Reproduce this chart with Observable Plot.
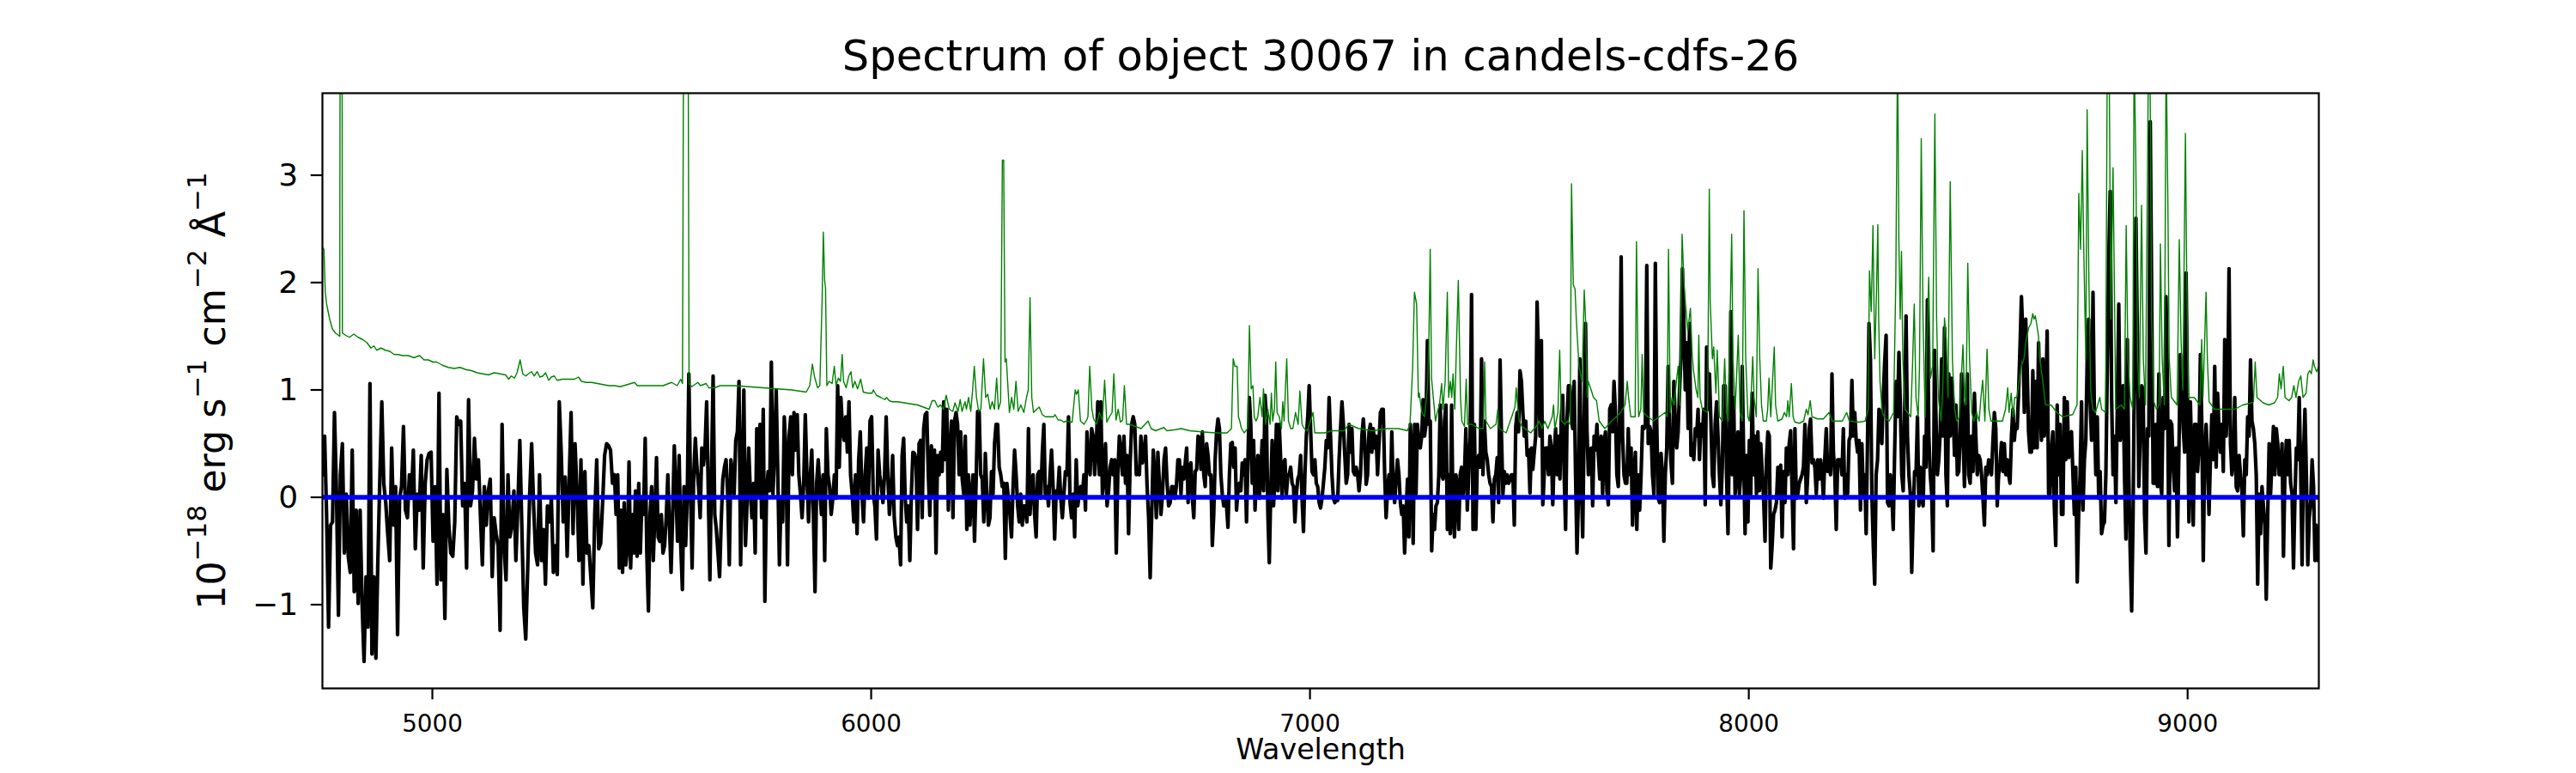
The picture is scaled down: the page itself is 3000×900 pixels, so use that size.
<!DOCTYPE html>
<html>
<head>
<meta charset="utf-8">
<script src="https://cdn.jsdelivr.net/npm/d3@7"></script>
<script src="https://cdn.jsdelivr.net/npm/@observablehq/plot@0.6"></script>
<style>
  html, body { margin: 0; padding: 0; background: #ffffff; }
  svg { display: block; }
</style>
</head>
<body>
<div id="chart"></div>
<script>
// ---------- text ----------
const titleText = "Spectrum of object 30067 in candels-cdfs-26";
const xLabelText = "Wavelength";
// y label parts: [text, isSuperscript]
const yLabelParts = [["10", 0], ["\u221218", 1], [" erg s", 0], ["\u22121", 1], [" cm", 0], ["\u22122", 1], [" \u00C5", 0], ["\u22121", 1]];

// ---------- ticks ----------
const xTicks = [5000, 6000, 7000, 8000, 9000];
const yTicks = [-1, 0, 1, 2, 3];

// ---------- flux (black), read in wavelength segments ----------
const segBounds = [4750, 5415, 6060, 6706, 7352, 7998, 8644, 9300];

const fluxSeg1 = [0.21,0.57,-0.16,-1.21,-0.26,-0.23,0.79,0.06,-1.10,0.21,0.50,-0.52,0.03,-0.55,-0.70,0.44,-0.88,-0.12,-0.99,-0.12,-0.99,-1.53,-0.74,-1.21,1.06,-1.46,-0.74,-1.50,-0.59,0.17,0.89,0.13,-0.05,-0.34,-0.59,0.46,-0.26,0.10,-1.28,-0.01,0.10,0.66,-0.12,-0.19,0.21,-0.01,0.44,-0.48,0.03,-0.12,0.39,-0.66,0.13,0.35,0.41,0.42,-0.41,0.10,-0.81,0.97,-0.77,-0.16,-1.13,0.26,-0.26,-0.52,-0.55,-0.23,0.75,0.68,0.71,-0.08,0.13,-0.66,0.91,-0.08,0.06,0.55,0.17,0.35,-0.16,-0.63,0.10,-0.26,0.06,0.17,-0.74,-0.19,-0.34,-0.45,-1.24,0.68,-0.45,-0.77,0.21,-0.37,-0.26,0.06,-0.59,-0.08,0.53,-0.26,-1.03,-1.32,-0.66,0.03,0.50,-0.08,-0.52,-0.63,0.21,-0.59,-0.30,-0.81,-0.08,-0.23,-0.01,-0.70,-0.45,-0.72,0.89,0.42,-0.23,0.19,-0.55,0.13,0.79,-0.34,0.50,0.06,-0.59,0.35,-0.81,0.24,-0.52,-0.45,-0.74,-1.03,-0.16,0.35,-0.48,-0.43,-0.05,0.39,0.50,0.48,0.44,0.13];

const fluxSeg2 = [0.21,-0.16,0.21,-0.66,-0.12,-0.70,-0.05,-0.63,-0.48,0.33,-0.66,-0.16,-0.52,0.06,-0.55,0.13,-0.52,-0.01,-0.16,0.55,-0.52,-1.06,-0.16,0.10,-0.59,-0.16,0.37,-0.37,-0.41,-0.16,-0.52,-0.45,-0.19,0.21,-0.26,-0.70,-0.16,0.48,0.06,-0.41,0.39,-0.45,-0.86,0.10,-0.45,-0.01,1.15,0.10,-0.66,0.21,0.55,0.28,0.10,-0.19,0.46,0.30,0.46,0.89,0.06,-0.77,0.24,1.13,-0.16,-0.30,-0.52,-0.74,-0.23,0.17,0.28,0.35,0.03,-0.63,0.35,0.21,0.03,0.53,0.61,1.08,-0.63,0.21,1.00,-0.45,-0.05,0.46,0.06,-0.19,0.13,-0.52,0.64,0.03,0.68,-0.19,0.82,-0.97,0.03,0.24,0.06,1.26,0.03,0.42,1.00,0.21,-0.63,-0.01,-0.23,0.75,0.42,-0.63,0.57,0.75,0.21,0.79,0.44,0.77,0.21,0.03,-0.19,0.13,0.77,0.21,-0.23,0.17,0.44,-0.16,-0.88,0.13,0.35,0.06,-0.16,0.21,-0.59,0.64,0.21,0.10,-0.16,-0.01,0.21,-0.01,1.04,0.28,0.93,0.64,0.53,0.75,0.42,0.89,0.21,0.03,-0.23,0.21,-0.34,0.35,0.61,0.03,-0.23,0.21,0.46,-0.01,0.71,0.75,0.03,-0.08,-0.39,0.44,0.21,0.10,-0.05,0.21,0.75,0.21,-0.16,0.03,0.39,-0.19,-0.37];

const fluxSeg3 = [-0.45,-0.37,-0.63,0.39,0.55,-0.01,-0.23,-0.08,-0.59,0.03,0.42,0.41,0.35,-0.30,0.50,0.53,-0.19,0.64,0.77,0.79,0.21,-0.17,0.48,0.03,0.44,-0.52,0.39,0.21,0.42,0.24,0.89,0.35,0.82,-0.12,0.42,0.71,-0.19,0.71,0.79,0.68,0.21,0.61,0.17,0.03,0.57,-0.30,0.21,-0.26,0.03,0.21,-0.41,0.13,0.80,0.80,0.21,0.17,-0.23,0.41,0.03,-0.26,-0.19,0.24,0.03,0.50,0.68,0.68,0.28,0.21,0.10,0.13,-0.57,0.13,-0.01,-0.16,-0.37,0.10,0.44,0.21,-0.08,-0.23,0.03,-0.26,-0.08,-0.08,-0.23,0.64,-0.16,0.10,0.21,-0.16,-0.37,0.21,0.24,-0.01,0.42,0.68,-0.01,0.10,-0.08,0.21,0.44,0.10,-0.39,0.06,0.03,0.28,-0.01,-0.19,0.03,0.24,0.21,0.75,-0.05,-0.19,0.03,-0.37,0.35,-0.08,0.03,0.10,-0.01,0.21,-0.12,0.61,0.32,0.21,0.64,0.57,0.21,0.46,0.89,0.21,0.89,0.03,0.17,0.50,-0.08,0.06,0.28,0.35,0.21,0.35,-0.52,0.21,0.57,0.42,0.21,0.57,0.13,0.39,-0.34,0.32,0.68,0.75,0.68,0.21,0.28,0.21,0.57,0.32,0.39,0.57,0.10,-0.19,-0.75,-0.16,0.44,0.21,-0.19,0.42,0.13,-0.16,0.03,0.35,0.46,0.13,-0.08,-0.05,0.10,0.10,-0.01,0.10,0.35,0.35];

const fluxSeg4 = [0.03,0.28,0.17,0.32,0.46,-0.05,0.28,0.32,-0.01,-0.19,0.24,0.26,0.57,0.55,0.26,0.61,0.21,0.10,0.50,0.39,0.21,0.21,-0.45,-0.16,0.35,0.61,0.73,0.64,0.21,0.03,-0.08,-0.01,-0.08,-0.28,0.21,0.50,0.51,0.28,0.46,-0.12,0.06,0.13,0.06,0.32,0.21,0.35,-0.23,0.35,0.93,0.68,0.13,0.53,-0.12,0.21,0.39,-0.01,0.21,0.53,0.06,0.95,0.75,-0.16,-0.61,0.03,0.53,-0.08,0.21,0.68,0.06,0.68,0.35,-0.01,0.32,0.35,0.03,0.21,0.21,0.28,0.13,0.10,-0.23,0.03,0.17,0.21,0.39,-0.01,-0.32,0.21,0.57,0.75,1.04,0.64,0.24,0.21,0.35,0.13,0.10,-0.05,-0.10,-0.01,0.13,0.28,0.53,0.46,0.93,0.57,0.21,-0.01,-0.05,-0.01,-0.03,0.35,0.64,0.89,0.68,0.39,0.13,0.21,0.68,0.42,0.64,0.24,0.21,0.28,0.21,0.06,0.21,0.57,0.73,0.53,0.12,0.21,0.61,0.68,0.42,0.64,0.46,0.57,0.21,0.50,0.79,0.82,0.82,0.21,-0.19,0.06,0.21,-0.01,0.61,0.06,-0.05,0.17,0.35,0.21,-0.05,-0.16,-0.08,-0.52,-0.16,0.17,-0.37,0.68,0.42,-0.43,0.68,0.03,0.68,0.50,0.46,0.57,0.91,0.57,0.68,1.46,0.68,0.71,-0.50,-0.16,-0.30,-0.08,-0.05,0.21,0.86,0.21,0.17,0.71,0.86,-0.30,0.21,-0.34,0.86,-0.16,-0.37,0.21,0.10,-0.30,0.21,0.28,0.03];

const fluxSeg5 = [0.21,0.64,-0.12,0.21,0.57,1.89,-0.30,0.68,-0.30,0.32,0.39,0.28,1.29,0.21,0.71,0.42,0.35,0.21,0.13,0.10,-0.23,0.17,0.21,0.37,-0.05,1.28,0.57,0.03,0.24,0.13,0.21,0.13,0.17,0.21,0.21,-0.26,0.66,0.79,0.61,1.18,1.08,0.79,0.57,0.71,0.39,0.44,0.04,0.46,0.26,0.42,0.57,1.82,1.29,0.57,1.46,-0.07,0.21,0.46,0.46,0.21,0.57,0.46,-0.07,0.39,0.64,0.21,0.57,0.17,0.75,0.95,0.21,-0.30,0.71,1.04,1.04,0.75,0.64,1.08,0.21,-0.52,-0.01,1.29,0.21,-0.37,0.64,1.62,0.64,0.21,0.24,0.46,-0.08,0.57,0.44,0.68,0.39,0.17,0.57,0.03,0.50,0.61,0.06,-0.07,0.82,0.86,0.61,1.08,0.79,0.21,0.10,0.82,2.24,0.57,0.21,0.13,0.13,0.64,0.21,0.46,-0.26,0.21,0.42,-0.30,0.21,-0.12,0.21,0.66,0.64,0.66,2.16,0.50,0.66,0.61,0.21,0.03,2.18,0.68,-0.01,-0.05,0.41,0.21,-0.41,0.21,0.46,1.22,0.64,0.32,0.13,1.08,0.71,0.46,0.61,1.00,1.29,2.13,1.66,1.00,1.44,0.64,1.62,0.39,0.50,0.35,0.64,0.57,0.82,0.35,0.68,0.57,0.82,-0.07,1.40,0.82,1.15,0.71,0.21,0.10,0.68,0.89,0.57,0.21,-0.07,0.28,1.04,1.04,0.21,-0.34,0.57,1.73,0.21,0.93,0.03,0.21,0.61,0.03,0.21,1.22,0.39,-0.34,0.39];

const fluxSeg6 = [-0.23,0.53,0.03,0.97,0.21,0.57,0.03,0.61,0.06,0.50,0.24,-0.01,-0.41,0.35,0.61,0.57,-0.66,-0.45,-0.16,-0.12,-0.05,0.28,-0.01,0.30,-0.37,0.24,-0.05,0.46,0.21,0.50,0.62,0.06,-0.48,0.64,-0.01,0.03,0.13,0.17,0.21,0.28,0.68,-0.05,0.21,0.64,0.73,0.32,0.35,0.28,0.03,0.35,0.17,0.35,0.24,-0.01,0.37,0.64,0.24,0.35,0.21,1.15,0.42,0.21,-0.30,0.35,0.35,0.35,0.21,0.64,-0.01,0.21,0.03,0.53,0.57,1.09,0.57,0.79,0.53,0.42,0.53,-0.12,0.50,0.03,0.21,-0.34,0.57,1.62,1.29,0.03,-0.45,-0.81,0.21,0.35,0.82,0.75,0.50,0.93,1.26,1.51,-0.05,-0.08,0.21,0.03,-0.30,0.42,1.08,0.75,1.35,0.86,0.21,0.06,0.75,1.69,0.57,0.21,0.03,-0.70,-0.16,0.24,0.21,0.75,-0.08,0.28,-0.01,-0.08,0.57,0.28,1.84,0.57,0.21,0.03,-0.50,1.37,0.75,0.21,0.35,0.61,1.29,0.57,1.58,0.21,-0.08,1.15,0.57,1.11,0.86,0.39,0.86,0.21,0.24,0.57,1.15,0.61,0.10,0.79,1.15,0.21,0.13,0.57,0.24,0.97,0.57,0.21,0.39,0.35,0.21,-0.01,-0.26,0.28,0.21,0.35,0.28,0.21,0.53,0.79,0.64,-0.08,0.21,0.32,0.51,0.24,0.50,0.21,0.35,0.21,0.13,0.57,0.82,0.53,0.68,0.64,0.97,1.40,1.87,1.51,0.79,1.66,1.22,0.61,0.42];

const fluxSeg7 = [0.42,1.18,0.46,1.08,0.46,1.44,0.93,0.53,1.29,0.57,0.86,1.55,0.03,0.03,0.46,0.61,-0.08,-0.45,0.86,0.21,0.68,-0.16,-0.16,0.93,0.35,0.89,0.37,0.57,0.61,0.21,-0.16,0.28,-0.79,-0.16,0.21,0.89,-0.12,0.35,0.53,1.33,1.66,0.89,0.53,1.91,0.75,0.21,0.75,-0.01,0.24,-0.34,-0.26,-0.23,0.21,1.22,2.20,2.85,0.93,0.21,0.57,-0.05,0.86,1.80,0.53,0.82,1.04,0.21,-0.39,1.47,0.21,-0.52,-1.06,-0.16,1.29,2.60,1.47,0.10,0.57,1.04,1.00,-0.16,-0.52,0.64,0.57,3.50,1.84,0.13,0.13,0.68,0.10,1.15,0.13,0.03,0.93,0.64,1.87,1.04,-0.45,0.71,0.68,0.28,0.06,0.46,-0.37,0.42,1.33,1.04,0.64,0.42,2.09,0.93,-0.23,0.89,0.35,-0.26,0.68,0.68,0.24,0.46,1.33,0.68,-0.59,0.39,0.68,0.35,-0.16,0.35,0.77,0.35,1.22,0.28,0.97,0.64,0.42,0.68,0.24,1.47,0.57,0.89,2.13,0.50,0.21,0.35,0.93,0.10,0.06,0.39,0.21,0.06,-0.36,0.35,0.21,0.75,0.57,1.28,0.71,0.64,0.50,0.21,-0.81,0.03,-0.34,0.10,-0.08,-0.26,-0.95,-0.16,0.50,0.03,0.35,0.66,0.21,0.64,0.50,0.21,0.21,0.50,-0.55,0.21,0.53,0.21,0.53,0.13,0.03,-0.66,-0.01,0.46,0.35,0.93,0.28,-0.63,0.39,0.82,0.21,-0.63,-0.19,-0.05,0.35,0.10,-0.59,-0.26,-0.59];

const fluxSegments = [fluxSeg1, fluxSeg2, fluxSeg3, fluxSeg4, fluxSeg5, fluxSeg6, fluxSeg7];

// ---------- error / sky spectrum (green) ----------
const errWave = [4750,4753,4756,4759,4766,4772,4779,4789,4791,4793,4795,4802,4811,4821,4831,4841,4851,4860,4867,4873,4883,4893,4903,4913,4922,4932,4945,4958,4971,4981,4991,5001,5010,5023,5036,5050,5063,5076,5089,5102,5115,5128,5141,5154,5167,5174,5180,5187,5193,5200,5206,5213,5219,5226,5232,5239,5245,5252,5258,5265,5271,5278,5284,5297,5310,5324,5333,5340,5350,5363,5376,5389,5402,5415,
5428,5461,5467,5493,5526,5545,5558,5566,5570,5576,5580,5585,5591,5605,5611,5624,5630,5643,5656,5689,5721,5754,5787,5819,5852,5860,5866,5871,5878,5883,5888,5891,5894,5896,5899,5904,5911,5916,5920,5925,5930,5934,5937,5943,5949,5954,5958,5963,5969,5976,5982,5992,6002,6005,6012,6022,6031,6035,6041,6048,
6060,6106,6132,6139,6145,6152,6158,6165,6171,6178,6186,6191,6198,6203,6207,6214,6217,6222,6227,6231,6235,6240,6245,6250,6256,6261,6266,6271,6276,6281,6286,6290,6295,6299,6302,6305,6308,6315,6320,6325,6330,6335,6341,6348,6354,6358,6362,6366,6370,6377,6383,6390,6397,6406,6416,6419,6426,6432,6439,6445,6458,6465,6468,6472,6477,6485,6491,6494,6498,6503,6507,6514,6520,6527,6532,6537,6543,6549,6553,6558,6563,6568,6573,6577,6582,6589,6602,6615,6631,6638,6648,6667,6674,6693,6706,
6726,6752,6785,6811,6821,6825,6829,6834,6837,6840,6844,6850,6858,6862,6866,6870,6873,6877,6881,6886,6891,6894,6899,6904,6909,6912,6915,6919,6922,6925,6930,6935,6938,6941,6947,6951,6956,6961,6967,6973,6977,6982,6987,6994,7007,7011,7033,7052,7078,7088,7111,7144,7176,7202,7222,7228,7234,7238,7243,7247,7249,7255,7261,7268,7271,7274,7277,7281,7286,7290,7295,7300,7303,7308,7313,7316,7320,7323,7326,7330,7333,7338,7343,7346,7352,
7356,7359,7369,7385,7395,7398,7401,7411,7424,7428,7431,7447,7463,7467,7470,7473,7477,7483,7503,7519,7522,7529,7535,7542,7552,7555,7558,7565,7569,7573,7581,7587,7593,7596,7600,7604,7607,7613,7620,7625,7628,7632,7634,7640,7646,7653,7659,7672,7685,7698,7708,7718,7723,7726,7731,7741,7744,7749,7754,7757,7760,7770,7783,7796,7809,7814,7817,7821,7825,7830,7835,7839,7843,7848,7852,7855,7861,7867,7871,7874,7880,7884,7886,7889,7894,7906,7910,7912,7917,7920,7925,7928,7931,7933,7940,7945,7949,7953,7961,7964,7969,7976,7980,7985,7989,7993,7998,
8001,8005,8009,8012,8017,8021,8025,8029,8033,8040,8043,8046,8050,8058,8061,8066,8076,8081,8086,8089,8092,8097,8101,8105,8115,8125,8131,8135,8140,8144,8157,8170,8183,8190,8213,8223,8229,8252,8265,8272,8275,8279,8283,8287,8291,8294,8296,8299,8304,8311,8320,8330,8335,8339,8342,8345,8348,8351,8356,8369,8373,8377,8381,8386,8389,8393,8397,8402,8406,8410,8414,8419,8424,8428,8432,8438,8442,8446,8450,8454,8459,8464,8469,8474,8480,8488,8492,8495,8499,8503,8508,8513,8519,8525,8529,8533,8538,8543,8547,8552,8578,8585,8590,8593,8598,8602,8606,8611,8616,8621,8627,8632,8638,8643,8647,8650,8653,8660,8663,8670,8676,
8689,8702,8715,8738,8748,8752,8756,8760,8763,8768,8771,8775,8779,8784,8790,8800,8804,8813,8817,8821,8825,8830,8833,8836,8849,8856,8860,8864,8869,8875,8878,8882,8886,8890,8895,8899,8904,8911,8914,8918,8923,8929,8935,8938,8942,8947,8951,8955,8958,8963,8976,8981,8985,8989,8995,8998,9002,9015,9028,9032,9035,9042,9045,9049,9061,9074,9087,9107,9126,9146,9150,9154,9158,9172,9185,9198,9205,9209,9213,9218,9222,9231,9237,9242,9247,9253,9258,9263,9270,9274,9278,9282,9286,9289,9294,9299];

const errFlux = [2.33,2.31,1.91,1.80,1.66,1.57,1.53,1.50,9,9,1.53,1.51,1.49,1.52,1.49,1.47,1.44,1.39,1.41,1.37,1.39,1.37,1.36,1.33,1.33,1.32,1.32,1.30,1.32,1.28,1.28,1.26,1.26,1.23,1.21,1.20,1.21,1.19,1.18,1.16,1.15,1.14,1.16,1.15,1.14,1.10,1.13,1.11,1.16,1.28,1.15,1.13,1.15,1.17,1.13,1.17,1.12,1.13,1.16,1.09,1.12,1.13,1.09,1.10,1.10,1.10,1.12,1.08,1.07,1.07,1.06,1.05,1.04,1.04,
1.03,1.07,1.04,1.04,1.04,1.07,1.04,1.10,1.06,9,9,1.06,1.03,1.07,1.04,1.06,1.02,1.02,1.04,1.04,1.03,1.02,1.01,1.00,0.98,1.04,1.24,1.12,1.02,1.04,1.80,2.47,2.02,1.95,1.04,1.08,1.06,1.22,1.04,1.11,1.08,1.33,1.08,1.02,1.13,1.17,1.02,1.08,1.01,1.10,0.98,0.97,0.97,1.00,0.95,0.93,0.91,0.93,0.90,0.89,
0.89,0.86,0.82,0.90,0.90,0.84,0.86,0.82,0.95,0.82,0.80,0.88,0.80,0.91,0.80,0.89,0.82,0.93,0.80,0.99,1.22,0.93,0.80,0.82,1.29,0.93,0.96,0.82,0.89,0.82,1.11,0.82,0.89,3.14,3.14,1.26,1.29,0.79,0.93,0.82,1.08,0.80,0.86,0.79,0.93,1.00,1.86,0.93,0.79,0.82,0.84,0.77,0.75,0.75,0.75,0.77,0.72,0.72,0.70,0.71,0.70,1.00,0.96,1.00,0.71,0.68,0.72,0.75,1.22,0.82,0.73,0.68,0.79,0.72,1.09,0.70,0.75,0.79,1.15,0.72,0.82,0.70,0.72,1.04,0.68,0.68,0.66,0.64,0.71,0.64,0.62,0.65,0.62,0.63,0.64,
0.62,0.61,0.60,0.60,0.64,1.29,1.22,1.22,0.75,0.71,0.64,0.60,0.64,1.60,1.01,1.04,0.75,0.71,0.75,0.93,0.75,1.01,0.68,0.82,0.68,0.97,0.71,0.82,1.26,0.79,0.75,0.64,0.89,0.71,1.29,0.71,0.64,0.64,0.79,0.68,0.99,0.68,0.64,0.62,0.79,0.60,0.60,0.62,0.62,0.68,0.64,0.62,0.64,0.64,0.62,0.68,1.22,1.91,1.80,0.93,0.97,0.79,0.75,1.04,1.47,2.31,1.11,0.93,0.71,0.79,0.86,1.06,0.82,1.08,1.91,0.93,1.08,0.93,1.15,0.82,1.29,2.02,0.93,0.71,0.66,
1.10,0.68,0.68,0.64,0.64,1.26,0.71,0.64,0.68,0.82,0.64,0.60,0.79,0.84,1.02,0.86,0.71,0.66,0.60,0.68,0.71,0.64,0.71,0.64,0.75,0.86,0.64,0.79,1.37,0.71,0.68,0.71,0.68,2.92,1.98,1.94,1.65,1.22,1.08,1.93,1.65,0.93,1.08,1.01,0.93,0.90,0.71,0.64,0.70,0.75,0.79,0.86,1.08,0.93,0.75,0.75,2.38,0.75,0.82,1.33,0.79,0.75,0.71,0.75,0.79,0.75,2.31,0.79,0.93,0.86,1.08,1.22,0.86,2.45,2.02,1.84,1.55,1.76,1.33,1.18,1.00,0.93,1.51,0.93,0.82,0.79,2.87,1.84,1.29,1.40,0.97,1.37,1.04,0.75,0.71,1.29,0.79,0.71,2.45,1.29,0.82,1.51,0.79,0.71,2.67,1.29,0.75,
0.71,0.93,1.31,0.93,0.75,2.13,1.29,0.86,0.71,0.71,0.82,1.11,0.75,1.40,0.86,0.71,0.73,0.79,0.75,0.90,0.75,1.06,0.75,0.70,0.69,0.71,0.82,0.77,0.90,0.75,0.73,0.73,0.79,0.71,0.71,0.79,0.71,0.70,0.71,0.82,2.11,1.73,2.53,1.29,1.91,2.54,1.66,1.08,0.79,0.73,0.71,0.79,2.02,4.2,2.38,1.66,2.29,1.29,0.82,0.75,1.22,1.80,0.93,0.75,1.22,3.34,1.66,0.75,1.47,2.05,1.11,1.22,3.57,1.66,0.93,0.71,1.00,1.67,1.47,0.93,2.94,1.29,0.82,0.71,0.75,1.42,0.93,0.86,2.18,1.29,0.79,0.71,0.79,0.71,0.93,1.09,0.71,1.38,0.82,0.71,0.71,0.82,1.02,0.79,0.97,0.75,0.93,0.93,1.08,1.22,1.29,1.47,1.58,1.62,1.71,1.66,1.69,1.51,1.29,1.08,0.86,
0.86,0.79,0.75,0.77,0.86,2.83,2.31,3.23,2.38,1.29,3.61,2.02,1.00,0.82,0.79,0.93,0.82,0.79,4.2,4.2,1.66,3.07,2.02,0.82,0.86,0.82,2.53,1.29,0.93,0.82,4.2,3.11,1.29,0.93,2.72,1.29,0.86,4.2,4.2,1.66,0.89,0.82,0.86,2.36,1.29,0.86,4.2,2.74,1.29,0.93,0.86,2.40,1.47,1.00,3.39,2.02,0.93,0.93,0.86,1.47,0.93,1.91,1.29,0.89,0.82,0.82,0.82,0.82,0.86,0.88,0.89,1.26,0.93,0.88,0.86,0.88,0.93,1.15,1.01,1.22,0.93,0.90,0.93,1.04,0.93,1.08,1.13,0.93,0.97,1.15,1.18,1.15,1.28,1.22,1.17,1.22];

// ---------- build tables ----------
const fluxData = [];
fluxSegments.forEach((seg, k) => {
  const a = segBounds[k], b = segBounds[k + 1];
  const step = (b - a) / seg.length;
  seg.forEach((v, i) => fluxData.push({wave: a + i * step, flux: v}));
});
const errData = errWave.map((w, i) => ({wave: w, flux: errFlux[i]}));
const yLabelPlain = yLabelParts.map(p => p[0]).join("");

const fmt = d3.format("d");

const chart = Plot.plot({
  width: 3000,
  height: 900,
  marginLeft: 375,
  marginRight: 300,
  marginTop: 108,
  marginBottom: 99,
  style: {fontFamily: "'DejaVu Sans', sans-serif", background: "#ffffff", color: "#000000", overflow: "visible"},
  x: {domain: [4749.5, 9299], ticks: xTicks, tickFormat: fmt},
  y: {domain: [-1.78, 3.764], ticks: yTicks, tickFormat: fmt},
  marks: [
    Plot.line(fluxData, {x: "wave", y: "flux", stroke: "#000000", strokeWidth: 4.2, clip: true}),
    Plot.line(errData, {x: "wave", y: "flux", stroke: "#008000", strokeWidth: 1.4, clip: true}),
    Plot.ruleY([0], {stroke: "#0000ff", strokeWidth: 5.6}),
    Plot.frame({stroke: "#000000", strokeWidth: 2.2}),
    Plot.axisX({ticks: xTicks, tickFormat: fmt, tickSize: 13.3, tickPadding: 17, fontSize: 27.8, strokeWidth: 2.2, label: null}),
    Plot.axisY({ticks: yTicks, tickFormat: fmt, tickSize: 13.3, tickPadding: 15, fontSize: 36, strokeWidth: 2.2, label: null}),
    Plot.text([titleText], {text: d => d, frameAnchor: "top", dy: -41.9, fontSize: 49.6, lineAnchor: "middle", textAnchor: "middle"}),
    Plot.text([xLabelText], {text: d => d, frameAnchor: "bottom", dy: 72.3, fontSize: 33.3, lineAnchor: "middle", textAnchor: "middle"}),
    Plot.text([yLabelPlain], {text: d => d, frameAnchor: "left", dx: -127.7, rotate: -90, fontSize: 44.4, lineAnchor: "middle", textAnchor: "middle"})
  ]
});

document.getElementById("chart").appendChild(chart);

// rebuild the y label with raised superscripts (still real text)
d3.select(chart).selectAll("text")
  .filter(function() { return this.textContent === yLabelPlain; })
  .each(function() {
    const t = d3.select(this);
    t.text(null);
    let shift = 0;
    yLabelParts.forEach(([s, sup]) => {
      const target = sup ? -22 : 0;
      t.append("tspan")
        .attr("dy", target - shift)
        .attr("font-size", sup ? 31 : 44.4)
        .text(s);
      shift = target;
    });
  });
</script>
</body>
</html>
